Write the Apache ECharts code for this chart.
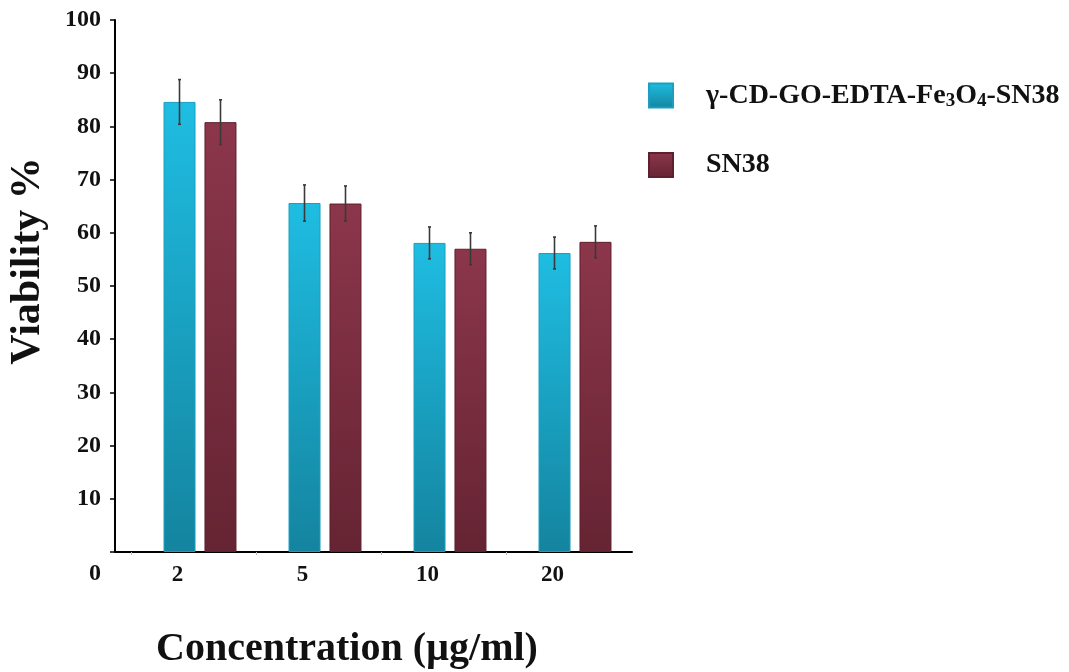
<!DOCTYPE html>
<html>
<head>
<meta charset="utf-8">
<script src="https://cdn.jsdelivr.net/npm/echarts@6/dist/echarts.min.js"></script>
<style>
  html, body { margin: 0; padding: 0; background: #fff; }
  #chart { width: 1069px; height: 672px; }
</style>
</head>
<body>
<div id="chart"></div>
<script>
// 数据
const concentrations = ['2', '5', '10', '20']
const seriesNames = ['γ-CD-GO-EDTA-Fe3O4-SN38', 'SN38']
const complexValues = [84.6, 65.6, 58.1, 56.2]
const complexErrors = [4.2, 3.4, 3.0, 3.0]
const sn38Values = [80.8, 65.5, 57.0, 58.3]
const sn38Errors = [4.2, 3.3, 3.0, 3.0]
const yTicks = [0, 10, 20, 30, 40, 50, 60, 70, 80, 90, 100]

const serif = "'Liberation Serif', 'Times New Roman', serif"

// 标签相对柱组中心向左偏移（原图的排版）
const labelShift = -0.18
const tickShift = -0.552

const barData = (vals) => vals.map((v, i) => [i, v])
const errData = (vals, errs) => vals.map((v, i) => [i, v - errs[i], v + errs[i]])

function errorSeries(vals, errs, dx) {
  return {
    type: 'custom',
    silent: true,
    z: 5,
    data: errData(vals, errs),
    renderItem: function (params, api) {
      const lo = api.coord([api.value(0), api.value(1)])
      const hi = api.coord([api.value(0), api.value(2)])
      const x = lo[0] + dx
      const style = { stroke: '#3a3a3a', lineWidth: 1.6 }
      return {
        type: 'group',
        children: [
          { type: 'line', shape: { x1: x, y1: lo[1], x2: x, y2: hi[1] }, style: style },
          { type: 'line', shape: { x1: x - 1.5, y1: lo[1], x2: x + 1.5, y2: lo[1] }, style: style },
          { type: 'line', shape: { x1: x - 1.5, y1: hi[1], x2: x + 1.5, y2: hi[1] }, style: style }
        ]
      }
    }
  }
}

const cyanFill = new echarts.graphic.LinearGradient(0, 0, 0, 1, [
  { offset: 0, color: '#1fbde2' },
  { offset: 1, color: '#14849f' }
])
const maroonFill = new echarts.graphic.LinearGradient(0, 0, 0, 1, [
  { offset: 0, color: '#8c364b' },
  { offset: 1, color: '#652433' }
])

const option = {
  backgroundColor: '#fff',
  animation: false,
  grid: { left: 115, right: 437, top: 20, bottom: 120, outerBoundsMode: 'none', containLabel: false },
  legend: {
    orient: 'vertical',
    left: 643,
    top: 75,
    icon: 'rect',
    itemWidth: 24,
    itemHeight: 24,
    itemGap: 40,
    data: seriesNames,
    formatter: function (name) {
      if (name === seriesNames[0]) {
        return '{n|γ-CD-GO-EDTA-Fe}{s|3}{n|O}{s|4}{n|-SN38}'
      }
      return '{n|' + name + '}'
    },
    textStyle: {
      padding: [0, 0, 0, 28],
      rich: {
        n: { fontFamily: serif, fontWeight: 'bold', fontSize: 28, color: '#111', lineHeight: 30 },
        s: { fontFamily: serif, fontWeight: 'bold', fontSize: 19, color: '#111', lineHeight: 30, padding: [12, 0, 0, 0] }
      }
    }
  },
  xAxis: {
    type: 'value',
    min: -0.68,
    max: 3.456,
    splitLine: { show: false },
    axisLine: { show: true, onZero: false, lineStyle: { color: '#000', width: 2 } },
    axisTick: {
      show: true,
      length: 3,
      customValues: concentrations.map((c, i) => i + tickShift),
      lineStyle: { color: '#bbb', width: 1 }
    },
    axisLabel: {
      margin: 12,
      customValues: concentrations.map((c, i) => i + labelShift),
      formatter: function (v) {
        return concentrations[Math.round(v - labelShift)] || ''
      },
      fontFamily: serif,
      fontWeight: 'bold',
      fontSize: 23,
      color: '#111'
    },
    name: 'Concentration (µg/ml)',
    nameLocation: 'middle',
    nameGap: 78,
    nameTextStyle: {
      fontFamily: serif,
      fontWeight: 'bold',
      fontSize: 40,
      color: '#111',
      padding: [0, 53, 0, 0]
    }
  },
  yAxis: {
    type: 'value',
    min: 0,
    max: 100,
    interval: 10,
    splitLine: { show: false },
    axisLine: { show: true, onZero: false, lineStyle: { color: '#000', width: 2 } },
    axisTick: { show: true, length: 5, lineStyle: { color: '#000', width: 1.5 } },
    axisLabel: {
      margin: 14,
      customValues: yTicks,
      formatter: function (v) {
        return v === 0 ? '{z|0}' : String(v)
      },
      fontFamily: serif,
      fontWeight: 'bold',
      fontSize: 24,
      color: '#111',
      rich: {
        z: { fontFamily: serif, fontWeight: 'bold', fontSize: 24, color: '#111', padding: [44, 0, 0, 0] }
      }
    },
    name: 'Viability %',
    nameLocation: 'middle',
    nameGap: 66,
    nameTextStyle: {
      fontFamily: serif,
      fontWeight: 'bold',
      fontSize: 42,
      color: '#111',
      padding: [0, 0, 0, 50]
    }
  },
  series: [
    {
      name: seriesNames[0],
      type: 'bar',
      barWidth: 32,
      barGap: '28%',
      data: barData(complexValues),
      itemStyle: { color: cyanFill, borderColor: '#1a9fc0', borderWidth: 1 }
    },
    {
      name: seriesNames[1],
      type: 'bar',
      barWidth: 32,
      barGap: '28%',
      data: barData(sn38Values),
      itemStyle: { color: maroonFill, borderColor: '#5e1f2e', borderWidth: 1 }
    },
    errorSeries(complexValues, complexErrors, -20.5),
    errorSeries(sn38Values, sn38Errors, 20.5)
  ]
}

const chart = echarts.init(document.getElementById('chart'))
chart.setOption(option)
</script>
</body>
</html>
